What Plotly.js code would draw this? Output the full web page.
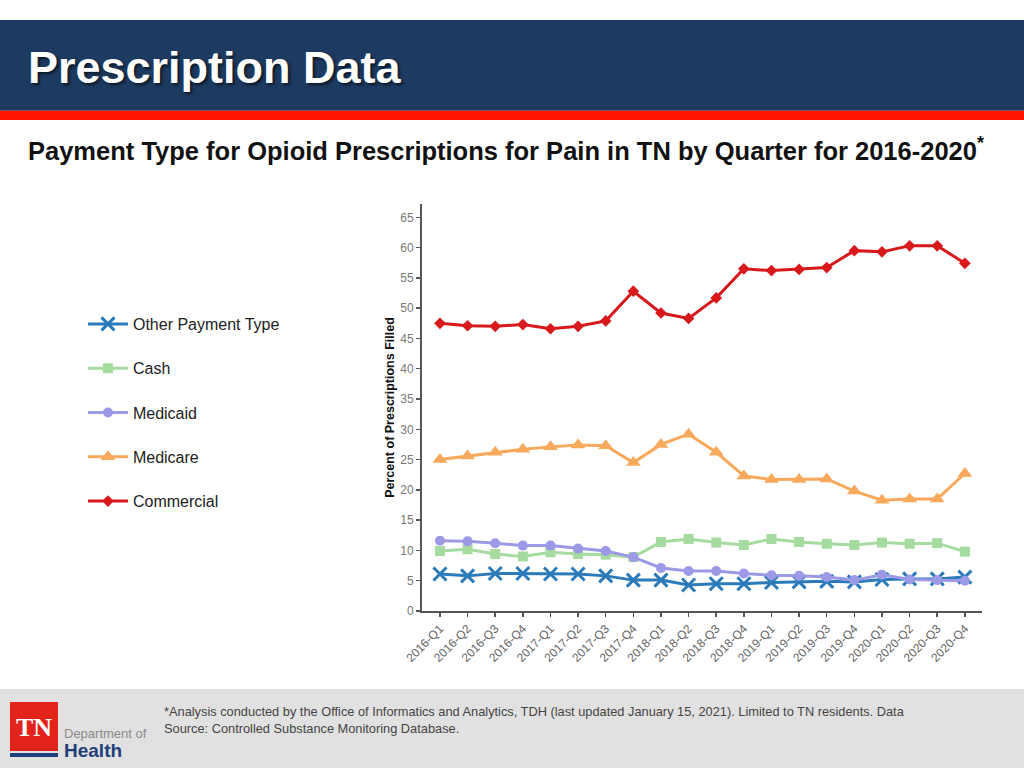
<!DOCTYPE html>
<html>
<head>
<meta charset="utf-8">
<script src="https://cdn.plot.ly/plotly-3.0.1.min.js"></script>
<style>
html,body{margin:0;padding:0;background:#fff;}
#chart{width:1024px;height:768px;}
</style>
</head>
<body>
<div id="chart"></div>
<script>
const quarters = ["2016-Q1","2016-Q2","2016-Q3","2016-Q4","2017-Q1","2017-Q2","2017-Q3","2017-Q4",
  "2018-Q1","2018-Q2","2018-Q3","2018-Q4","2019-Q1","2019-Q2","2019-Q3","2019-Q4",
  "2020-Q1","2020-Q2","2020-Q3","2020-Q4"];
const otherPayment = [6.1,5.8,6.2,6.2,6.1,6.1,5.8,5.1,5.1,4.3,4.5,4.5,4.7,4.8,4.9,4.8,5.2,5.3,5.3,5.6];
const cash = [9.9,10.2,9.4,9.0,9.7,9.4,9.3,8.9,11.4,11.9,11.3,10.9,11.9,11.4,11.1,10.9,11.3,11.1,11.2,9.8];
const medicaid = [11.6,11.5,11.2,10.8,10.8,10.3,9.9,8.9,7.1,6.6,6.6,6.2,5.9,5.8,5.6,5.1,6.0,5.2,5.1,5.0];
const medicare = [25.0,25.6,26.2,26.7,27.1,27.4,27.3,24.5,27.5,29.2,26.2,22.3,21.7,21.7,21.8,19.8,18.3,18.5,18.5,22.7];
const commercial = [47.5,47.1,47.0,47.3,46.6,47.0,47.9,52.8,49.2,48.3,51.7,56.5,56.2,56.4,56.7,59.5,59.3,60.3,60.3,57.4];
const yTicks = [0,5,10,15,20,25,30,35,40,45,50,55,60,65];

function series(name, y, color, symbol, size) {
  return {
    type: 'scatter', mode: 'lines+markers', name: name, x: quarters, y: y,
    legendgroup: name,
    line: {color: color, width: 3},
    marker: {color: color, symbol: symbol, size: size,
      line: {color: color, width: symbol === 'x-thin' ? 3 : 0}},
    hoverinfo: 'x+y+name'
  };
}

const data = [
  series('Other Payment Type', otherPayment, '#2b7bba', 'x-thin', 13),
  series('Cash', cash, '#a6dba0', 'square', 10),
  series('Medicaid', medicaid, '#9c99e6', 'circle', 10),
  series('Medicare', medicare, '#f9a95b', 'triangle-up', 13),
  series('Commercial', commercial, '#d7191c', 'diamond', 9)
];

const navy = '#1d3a60';
const layout = {
  width: 1024, height: 768,
  margin: {l: 0, r: 0, t: 0, b: 0},
  paper_bgcolor: '#ffffff', plot_bgcolor: '#ffffff',
  font: {family: 'Liberation Sans, Arial, sans-serif', color: '#555'},
  showlegend: true,
  legend: {
    x: 0.081, y: 1 - 307/768, xanchor: 'left', yanchor: 'top',
    bgcolor: 'rgba(0,0,0,0)', borderwidth: 0,
    font: {size: 16, color: '#222', family: 'Liberation Sans, Arial, sans-serif'},
    tracegroupgap: 20.5, itemwidth: 40
  },
  xaxis: {
    domain: [422/1024, 982/1024],
    range: [-0.65, 19.62],
    type: 'category',
    showgrid: false, zeroline: false,
    showline: true, linecolor: '#555', linewidth: 2,
    ticks: 'outside', ticklen: 4, tickcolor: '#555', tickwidth: 1.5,
    tickangle: -45, tickfont: {size: 12, color: '#666'},
    fixedrange: true
  },
  yaxis: {
    domain: [1 - 611/768, 1 - 204/768],
    range: [0, 67.2],
    tickvals: yTicks,
    showgrid: false, zeroline: false,
    showline: true, linecolor: '#555', linewidth: 2,
    ticks: 'outside', ticklen: 4, tickcolor: '#555', tickwidth: 1.5,
    tickfont: {size: 12, color: '#777'},
    title: {text: '<b>Percent of Prescriptions Filled</b>', font: {size: 12.5, color: '#111'}, standoff: 3},
    fixedrange: true
  },
  shapes: [
    {type: 'rect', xref: 'paper', yref: 'paper', x0: 0, x1: 1, y0: 1 - 110.7/768, y1: 1 - 20/768,
      fillcolor: navy, line: {width: 0}, layer: 'below'},
    {type: 'rect', xref: 'paper', yref: 'paper', x0: 0, x1: 1, y0: 1 - 120/768, y1: 1 - 110.7/768,
      fillcolor: '#ff1400', line: {width: 0}, layer: 'below'},
    {type: 'rect', xref: 'paper', yref: 'paper', x0: 0, x1: 1, y0: 0, y1: 1 - 689/768,
      fillcolor: '#e1e1e1', line: {width: 0}, layer: 'below'},
    {type: 'rect', xref: 'paper', yref: 'paper', x0: 10/1024, x1: 58/1024, y0: 1 - 751/768, y1: 1 - 702/768,
      fillcolor: '#e2231a', line: {width: 0}, layer: 'below'},
    {type: 'rect', xref: 'paper', yref: 'paper', x0: 10/1024, x1: 58/1024, y0: 1 - 757/768, y1: 1 - 753/768,
      fillcolor: '#1f3f7a', line: {width: 0}, layer: 'below'}
  ],
  annotations: [
    {xref: 'paper', yref: 'paper', x: 26/1024, y: 1 - 68/768, xanchor: 'left', yanchor: 'middle',
      text: '<b>Prescription Data</b>', showarrow: false,
      font: {family: 'Liberation Sans, Arial, sans-serif', size: 45, color: '#ffffff',
        shadow: '2px 2px 3px rgba(0,0,0,0.6)'}},
    {xref: 'paper', yref: 'paper', x: 26/1024, y: 1 - 149/768, xanchor: 'left', yanchor: 'middle',
      text: '<b>Payment Type for Opioid Prescriptions for Pain in TN by Quarter for 2016-2020<sup>*</sup></b>',
      showarrow: false,
      font: {family: 'Liberation Sans, Arial, sans-serif', size: 25.5, color: '#111'}},
    {xref: 'paper', yref: 'paper', x: 162/1024, y: 1 - 720/768, xanchor: 'left', yanchor: 'middle',
      align: 'left',
      text: '*Analysis conducted by the Office of Informatics and Analytics, TDH (last updated January 15, 2021). Limited to TN residents. Data<br>Source: Controlled Substance Monitoring Database.',
      showarrow: false,
      font: {family: 'Liberation Sans, Arial, sans-serif', size: 12.8, color: '#444'}},
    {xref: 'paper', yref: 'paper', x: 34/1024, y: 1 - 727/768, xanchor: 'center', yanchor: 'middle',
      text: '<b>TN</b>', showarrow: false,
      font: {family: 'Liberation Serif, DejaVu Serif, serif', size: 26, color: '#ffffff'}},
    {xref: 'paper', yref: 'paper', x: 62/1024, y: 1 - 733/768, xanchor: 'left', yanchor: 'middle',
      text: 'Department of', showarrow: false,
      font: {family: 'Liberation Sans, Arial, sans-serif', size: 13, color: '#8a8a8a'}},
    {xref: 'paper', yref: 'paper', x: 62/1024, y: 1 - 750/768, xanchor: 'left', yanchor: 'middle',
      text: '<b>Health</b>', showarrow: false,
      font: {family: 'Liberation Sans, Arial, sans-serif', size: 19, color: '#1f3f7a'}}
  ]
};

Plotly.newPlot('chart', data, layout, {displayModeBar: false, staticPlot: true});
</script>
</body>
</html>
